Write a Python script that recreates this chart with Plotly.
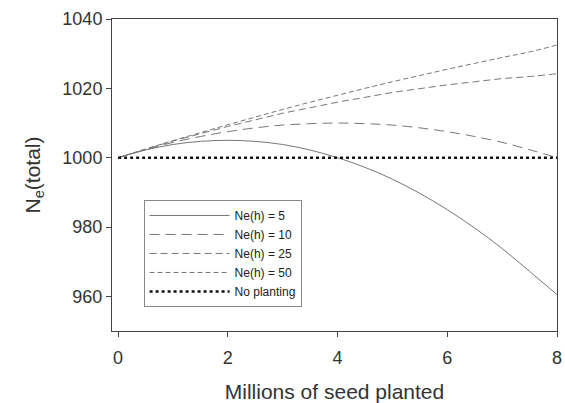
import plotly.graph_objects as go

x_seed = [0, 0.5, 1, 1.5, 2, 2.5, 3, 3.5, 4, 4.5, 5, 5.5, 6, 6.5, 7, 7.5, 8]
ne_h5 = [1000, 1002.2, 1003.8, 1004.7, 1005, 1004.7, 1003.8, 1002.2, 1000,
         997.2, 993.8, 989.7, 985, 979.7, 973.8, 967.2, 960.5]
ne_h10 = [1000, 1002.3, 1004.4, 1006.1, 1007.5, 1008.6, 1009.4, 1009.8, 1010,
          1009.8, 1009.4, 1008.6, 1007.5, 1006.1, 1004.4, 1002.3, 1000]
ne_h25 = [1000, 1002.4, 1004.8, 1006.9, 1009, 1010.9, 1012.8, 1014.4, 1016,
          1017.4, 1018.8, 1019.9, 1021, 1021.9, 1022.8, 1023.4, 1024.2]
ne_h50 = [1000, 1002.5, 1004.9, 1007.2, 1009.5, 1011.7, 1013.9, 1016, 1018,
          1020, 1021.9, 1023.7, 1025.5, 1027.2, 1028.9, 1030.5, 1032.5]
no_planting = [1000] * len(x_seed)

names = ["Ne(h) = 5", "Ne(h) = 10", "Ne(h) = 25", "Ne(h) = 50", "No planting"]
series = [ne_h5, ne_h10, ne_h25, ne_h50, no_planting]
dashes = ["solid", "10px,6px", "7px,4px", "5px,3px", "dot"]
colors = ["#777777", "#777777", "#777777", "#777777", "#111111"]
widths = [1, 1, 1, 1, 2.5]

fig = go.Figure()
for nm, ys, d, c, w in zip(names, series, dashes, colors, widths):
    fig.add_trace(go.Scatter(x=x_seed, y=ys, mode="lines", name=nm,
                             line=dict(color=c, width=w, dash=d, shape="spline")))

fig.update_layout(
    width=565, height=403,
    margin=dict(l=112, r=8, t=19, b=72),
    paper_bgcolor="white", plot_bgcolor="white",
    font=dict(family="Liberation Sans, Arial, sans-serif", color="#333333"),
    showlegend=True,
    legend=dict(x=0.071, y=0.42, xanchor="left", yanchor="top",
                bordercolor="#888888", borderwidth=1, bgcolor="white",
                font=dict(size=12, color="#222222"), tracegroupgap=0,
                itemwidth=80),
)
fig.update_xaxes(range=[-0.11, 8.0], tickvals=[0, 2, 4, 6, 8],
                 showgrid=False, zeroline=False, automargin=False,
                 showline=True, linecolor="#444444", linewidth=1, mirror=True,
                 ticks="outside", ticklen=5, tickcolor="#444444",
                 ticklabelstandoff=5,
                 tickfont=dict(size=18, color="#333333"),
                 title=dict(text="Millions of seed planted", font=dict(size=21, color="#333333"), standoff=18))
fig.update_yaxes(range=[950, 1040], tickvals=[960, 980, 1000, 1020, 1040],
                 showgrid=False, zeroline=False, automargin=False,
                 showline=True, linecolor="#444444", linewidth=1, mirror=True,
                 ticks="outside", ticklen=5, tickcolor="#444444",
                 tickfont=dict(size=18, color="#333333"),
                 title=dict(text="N<sub>e</sub>(total)", font=dict(size=21, color="#333333"), standoff=16))

fig.write_html("out.html")
